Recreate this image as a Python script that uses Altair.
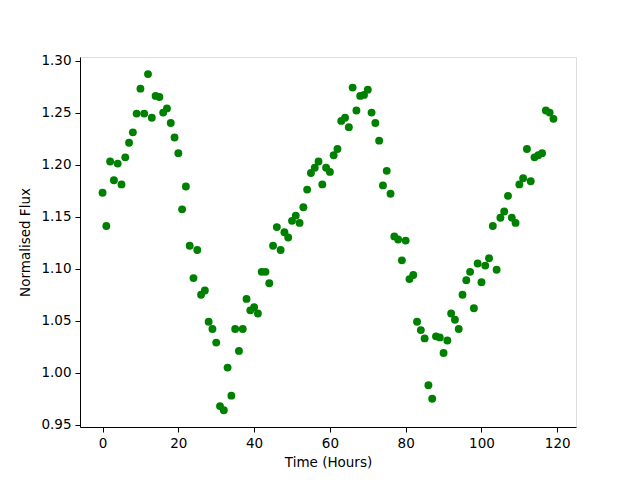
import altair as alt
import pandas as pd

hours = list(range(120))
flux = [
    1.173, 1.141, 1.203, 1.185, 1.201, 1.181, 1.207, 1.221, 1.231, 1.249,
    1.273, 1.249, 1.287, 1.245, 1.266, 1.265, 1.250, 1.254, 1.240, 1.226,
    1.211, 1.157, 1.179, 1.122, 1.091, 1.118, 1.075, 1.079, 1.049, 1.042,
    1.029, 0.968, 0.964, 1.005, 0.978, 1.042, 1.021, 1.042, 1.071, 1.060,
    1.063, 1.057, 1.097, 1.097, 1.086, 1.122, 1.140, 1.118, 1.135, 1.130,
    1.146, 1.151, 1.144, 1.159, 1.176, 1.192, 1.197, 1.203, 1.181, 1.197,
    1.193, 1.209, 1.215, 1.242, 1.245, 1.236, 1.274, 1.252, 1.266, 1.267,
    1.272, 1.250, 1.240, 1.223, 1.180, 1.194, 1.172, 1.131, 1.128, 1.108,
    1.127, 1.090, 1.094, 1.049, 1.041, 1.033, 0.988, 0.975, 1.035, 1.034,
    1.019, 1.031, 1.057, 1.051, 1.042, 1.075, 1.089, 1.097, 1.062, 1.105,
    1.087, 1.103, 1.110, 1.141, 1.099, 1.149, 1.155, 1.170, 1.149, 1.144,
    1.181, 1.187, 1.215, 1.184, 1.207, 1.209, 1.211, 1.252, 1.250, 1.244,
]
x_ticks = [0, 20, 40, 60, 80, 100, 120]
y_ticks = [0.95, 1.00, 1.05, 1.10, 1.15, 1.20, 1.25, 1.30]

df = pd.DataFrame({"hours": hours, "flux": flux})

font = "DejaVu Sans"
axis_common = dict(
    grid=False, domainColor="black", tickColor="black", tickSize=5,
    labelFont=font, labelFontSize=13.5, labelColor="black", labelPadding=4,
    titleFont=font, titleFontSize=13.5, titleFontWeight="normal", titleColor="black",
)

chart = alt.Chart(df).mark_point(filled=True, opacity=1, size=62, color="#008000").encode(
    x=alt.X("hours:Q", title="Time (Hours)",
            scale=alt.Scale(domain=[-5.95, 124.95], nice=False, zero=False),
            axis=alt.Axis(values=x_ticks, format="d", titlePadding=6, **axis_common)),
    y=alt.Y("flux:Q", title="Normalised Flux",
            scale=alt.Scale(domain=[0.9479, 1.3034], nice=False, zero=False),
            axis=alt.Axis(values=y_ticks, format=".2f", titlePadding=8, **axis_common)),
).properties(
    width=496, height=370,
    autosize=alt.AutoSizeParams(type="none"),
    padding={"left": 72, "top": 49, "right": 56, "bottom": 45},
).configure_view(stroke="black", strokeWidth=1).configure(background="white")

chart.save("out.html", embed_options={"renderer": "svg", "actions": False})
